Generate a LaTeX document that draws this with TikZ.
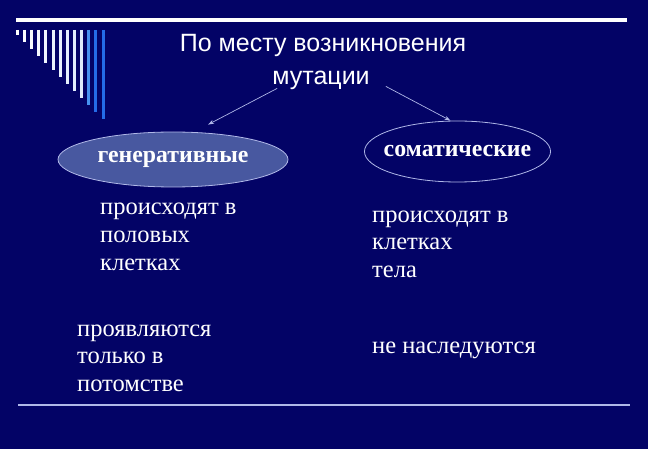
\documentclass[tikz,border=0pt]{standalone}
\usepackage{fontspec}
\setmainfont{Liberation Serif}
\newfontfamily\arialfont{Liberation Sans}
\usetikzlibrary{arrows.meta,shapes.geometric}
\definecolor{slidebg}{RGB}{3,3,102}
\definecolor{ovalfill}{RGB}{72,88,160}
\definecolor{edgeline}{RGB}{176,184,232}
\definecolor{stripeblue}{RGB}{36,108,232}
\definecolor{stripelight}{RGB}{70,146,240}

\begin{document}
\begin{tikzpicture}[x=1pt,y=-1pt,
    arr/.style={-{Stealth[length=6pt,width=4pt]}, edgeline, line width=0.7pt},
    head/.style={anchor=base, text=white, inner sep=0pt, font=\arialfont\fontsize{25}{29}\selectfont},
    oval/.style={ellipse, draw=edgeline, line width=0.8pt, inner xsep=-8pt, inner ysep=0pt, text=white,
      font=\bfseries\fontsize{23.8}{27}\selectfont},
    body/.style={align=left, anchor=base west, text=white, inner sep=0pt,
      font=\fontsize{24.5}{27.5}\selectfont}]
    % Background
    \fill[slidebg] (0,0) rectangle (648,449);
    
    % Top bar and stripes
    \draw[white, line width=4.5pt] (16,20) -- (627,20);
    \foreach \i in {0,...,9} {
        \pgfmathtruncatemacro\p{2*\i}
        \draw[stripelight!\p!white, line width=3pt] ({17.3+7.15*\i},30) -- ({17.3+7.15*\i},{35+7*\i});
    }
    \foreach \i/\c in {10/stripelight, 11/stripeblue, 12/stripeblue}
        \draw[\c, line width=3pt] ({17.3+7.15*\i},30) -- ({17.3+7.15*\i},{35+7*\i});
    
    % Title
    \node[head] (title) at (323,52) {По месту возникновения};
    \node[head] (mut) at (321,85) {мутации};
    
    % Ovals
    \node[oval, fill=ovalfill, minimum width=230pt, minimum height=55pt] (gen) at (173,159.5) {генеративные};
    \node[oval, minimum width=185pt, minimum height=61pt] (som) at (457.5,151.5) {соматические};
    
    % Arrows
    \draw[arr] ([xshift=5pt,yshift=2pt]mut.south west) -- ([xshift=35pt,yshift=7pt]gen.north);
    \draw[arr] ([xshift=16pt,yshift=4pt]mut.south east) -- ([xshift=-7pt]som.north);
    
    % Texts (base = last line)
    \node[body] (genwhere) at (100,270) {происходят в\\половых\\клетках};
    \node[body] (genshow) at (77,391) {проявляются\\только в\\потомстве};
    \node[body] (somwhere) at (372,277) {происходят в\\клетках\\тела};
    \node[body] (somshow) at (372,353) {не наследуются};
    
    % Bottom line
    \draw[edgeline, line width=1.2pt] (18,405) -- (630,405);
\end{tikzpicture}
\end{document}
